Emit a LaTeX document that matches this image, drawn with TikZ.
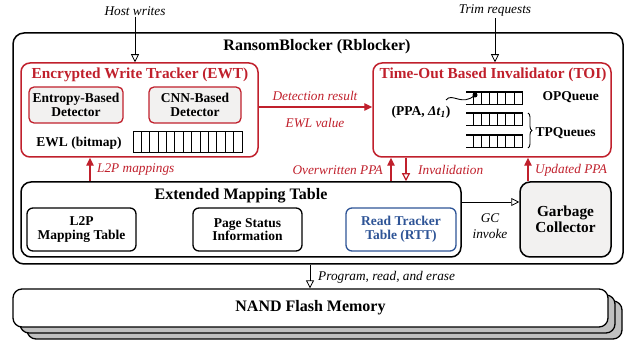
\documentclass[tikz,border=0pt]{standalone}
\usepackage{fontspec}
\setmainfont{Liberation Serif}
\usetikzlibrary{arrows.meta,decorations.pathreplacing}
\definecolor{rbred}{RGB}{192,32,44}
\definecolor{rbblue}{RGB}{46,84,150}
\definecolor{boxgray}{RGB}{242,241,240}
\definecolor{shadowgray}{RGB}{192,192,192}

\begin{document}
\begin{tikzpicture}[x=1pt,y=-1pt,
  bigfont/.style={font=\fontsize{16}{18}\selectfont\bfseries},
  titlefont/.style={font=\fontsize{15.3}{17}\selectfont\bfseries},
  boxfont/.style={font=\fontsize{13.5}{15.5}\selectfont\bfseries},
  labelfont/.style={font=\fontsize{13.3}{15.5}\selectfont\itshape},
  outerframe/.style={draw, line width=1.5pt, rounded corners=11pt, inner sep=0pt},
  redframe/.style={draw=rbred, line width=1.5pt, rounded corners=9pt, inner sep=0pt},
  innerbox/.style={draw, line width=1.3pt, rounded corners=6pt, inner sep=0pt,
    align=center, boxfont, minimum height=43pt, minimum width=109pt},
  detbox/.style={draw=rbred, line width=1.3pt, rounded corners=5pt, fill=boxgray,
    inner sep=0pt, align=center, boxfont, minimum height=36pt},
  nandbox/.style={draw, line width=1.3pt, rounded corners=9pt, inner sep=0pt,
    minimum width=595pt, minimum height=38pt},
  openarrow/.style={line width=0.8pt, -{Triangle[open, length=8pt, width=8pt]}},
  redup/.style={draw=rbred, line width=1.4pt, -{Triangle[length=8pt, width=7.5pt]}, fill=rbred},
  reddown/.style={draw=rbred, line width=1.2pt, -{Triangle[open, length=8pt, width=8pt]}},
  redlabel/.style={labelfont, text=rbred, inner sep=1pt},
  blacklabel/.style={labelfont, inner sep=1pt}]

\useasboundingbox (0,0) rectangle (633,342);

% ---------- NAND flash stack ----------
\node[nandbox, fill=shadowgray] (nand3) at (324.5,320) {};
\node[nandbox, fill=shadowgray] (nand2) at (317.5,314) {};
\node[nandbox, fill=white, bigfont] (nand) at (310.5,308) {NAND Flash Memory};

% ---------- RansomBlocker frame ----------
\node[outerframe, minimum width=610pt, minimum height=231pt] (rb) at (318,148.5) {};
\node[bigfont] (rbtitle) at (317,47) {RansomBlocker (Rblocker)};

% ---------- Encrypted Write Tracker ----------
\node[redframe, minimum width=237pt, minimum height=94pt] (ewt) at (139.5,110) {};
\node[titlefont, text=rbred] (ewttitle) at (140,75) {Encrypted Write Tracker (EWT)};
\node[detbox, minimum width=94pt] (entropy) at (76,105) {Entropy-Based\\[-2pt]Detector};
\node[detbox, minimum width=92pt] (cnn) at (195,105) {CNN-Based\\[-2pt]Detector};
\node[boxfont] (ewl) at (79,143) {EWL (bitmap)};
\draw[line width=1pt] (133,132) rectangle (242,153);
\foreach \i in {1,...,12} \draw[line width=1pt] (133+\i*8.385,132) -- ++(0,21);

% ---------- Time-Out Based Invalidator ----------
\node[redframe, minimum width=238pt, minimum height=94pt] (toi) at (492,110) {};
\node[titlefont, text=rbred] (toititle) at (493,75) {Time-Out Based Invalidator (TOI)};
\node[boxfont] (ppa) at (421,112) {(PPA, \textit{Δt}\textsubscript{\textit{1}})};
% queues: one OPQueue row and two TPQueue rows
\foreach \top in {92,113,135} {
  \draw[line width=1.2pt] (466,\top) -- (523,\top);
  \draw[line width=1.2pt] (466,\top+12.5) -- (523,\top+12.5);
  \foreach \k in {0,...,6} \draw[line width=1pt] (473+\k*8.2,\top) -- ++(0,12.5);
}
\node[circle, fill, inner sep=0pt, minimum size=5pt] (opdot) at (475,95) {};
\draw[line width=0.9pt] (446,100) .. controls (452,92) and (462,107) .. (opdot.center);
\node[boxfont, anchor=west] (opq) at (539,97) {OPQueue};
\draw[line width=0.9pt, decorate, decoration={brace, amplitude=4pt}] (528,113) -- (528,148);
\node[boxfont, anchor=west] (tpq) at (532,133) {TPQueues};

% ---------- Extended Mapping Table ----------
\node[draw, line width=1.5pt, rounded corners=10pt, inner sep=0pt,
      minimum width=440pt, minimum height=75pt] (emt) at (241,219.5) {};
\node[bigfont] (emttitle) at (241,196) {Extended Mapping Table};
\node[innerbox] (l2p) at (81.5,229.5) {L2P\\[-2pt]Mapping Table};
\node[innerbox] (pss) at (247.5,229.5) {Page Status\\[-2pt]Information};
\node[innerbox, draw=rbblue, text=rbblue, minimum width=110pt] (rtt) at (401,229.5) {Read Tracker\\[-2pt]Table (RTT)};

% ---------- Garbage Collector ----------
\node[draw, line width=1.5pt, rounded corners=10pt, fill=boxgray, inner sep=0pt,
      minimum width=91pt, minimum height=75pt, align=center, titlefont] (gc) at (565.5,219.5) {Garbage\\[-1pt]Collector};

% ---------- external inputs ----------
\node[blacklabel] (host) at (135,11) {Host writes};
\node[blacklabel] (trim) at (495,11) {Trim requests};
\draw[openarrow] (host.south) -- (host.south |- ewt.north);
\draw[openarrow] (trim.south) -- (trim.south |- toi.north);

% ---------- EWT -> TOI ----------
\coordinate (dety) at (315,107);
\draw[redup] (ewt.east |- dety) -- (toi.west |- dety);
\node[redlabel] (detlab) at (315,96) {Detection result};
\node[redlabel] (ewlval) at (315,123) {EWL value};

% ---------- red links between blocks ----------
\coordinate (xl2p) at (90,170);
\coordinate (xover) at (391,170);
\coordinate (xinv) at (406,170);
\coordinate (xupd) at (528,170);
\draw[redup] (xl2p |- emt.north) -- (xl2p |- ewt.south);
\node[redlabel, anchor=west] (l2plab) at (96,170) {L2P mappings};
\draw[redup] (xover |- emt.north) -- (xover |- toi.south);
\node[redlabel, anchor=east] (overlab) at (384,170) {Overwritten PPA};
\draw[reddown] (xinv |- toi.south) -- (xinv |- emt.north);
\node[redlabel, anchor=west] (invlab) at (417,170) {Invalidation};
\draw[redup] (xupd |- gc.north) -- (xupd |- toi.south);
\node[redlabel, anchor=west] (updlab) at (534,170) {Updated PPA};

% ---------- GC invoke ----------
\coordinate (gcy) at (490,202);
\draw[openarrow] (emt.east |- gcy) -- (gc.west |- gcy);
\node[blacklabel, align=center] (gclab) at (490,226) {GC\\invoke};

% ---------- flash commands ----------
\coordinate (progx) at (310,276);
\draw[openarrow] (progx |- rb.south) -- (progx |- nand.north);
\node[blacklabel, anchor=west] (proglab) at (317,277) {Program, read, and erase};

\end{tikzpicture}
\end{document}
